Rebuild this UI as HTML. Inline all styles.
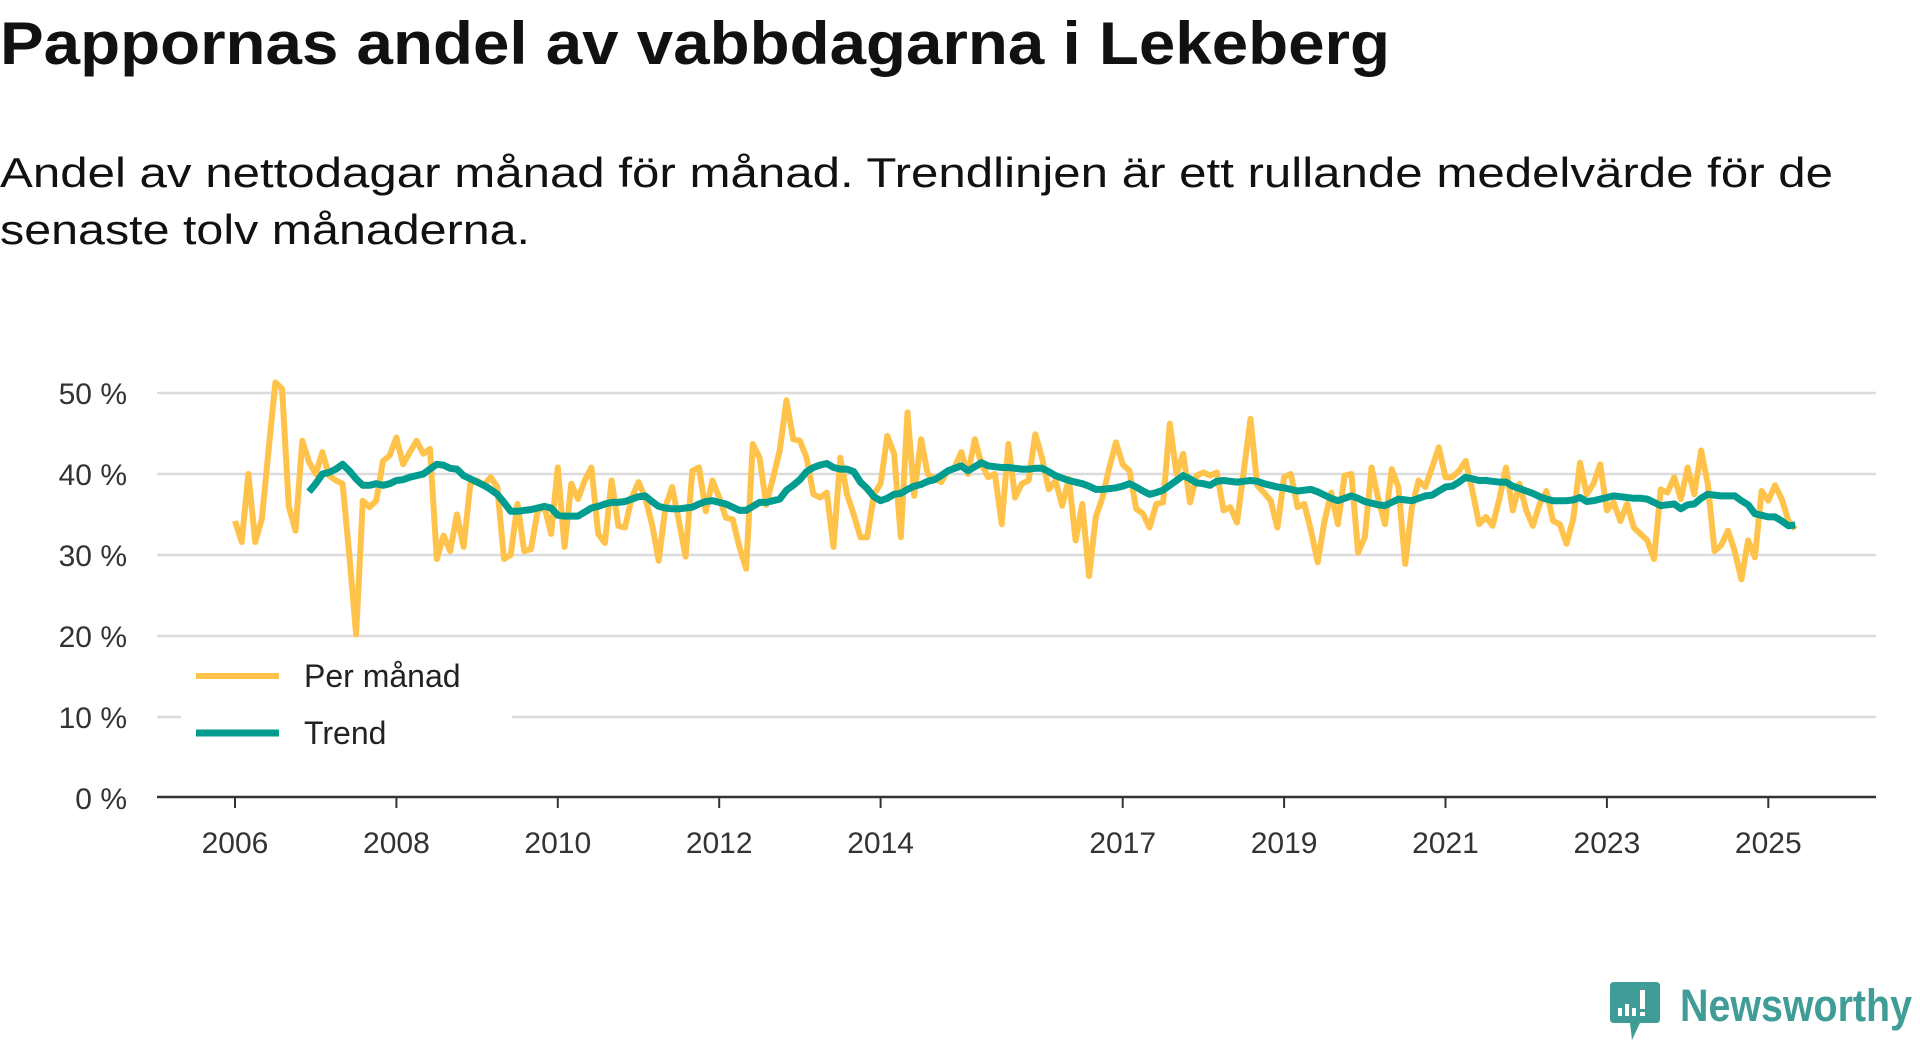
<!DOCTYPE html>
<html><head><meta charset="utf-8"><style>
html,body{margin:0;padding:0;background:#fff;}
svg{display:block;font-family:"Liberation Sans","DejaVu Sans",sans-serif;}
</style></head><body>
<svg id="chart" width="1920" height="1040" viewBox="0 0 1920 1040" xmlns="http://www.w3.org/2000/svg">
<text x="0" y="64" font-size="60" font-weight="bold" fill="#111" textLength="1390" lengthAdjust="spacingAndGlyphs">Pappornas andel av vabbdagarna i Lekeberg</text>
<text x="0" y="187" font-size="42" fill="#111" textLength="1833" lengthAdjust="spacingAndGlyphs">Andel av nettodagar månad för månad. Trendlinjen är ett rullande medelvärde för de</text>
<text x="0" y="244" font-size="42" fill="#111" textLength="530" lengthAdjust="spacingAndGlyphs">senaste tolv månaderna.</text>
<g id="grid"></g>
<g id="yaxis"></g>
<g id="xaxis"></g>
<g id="series"></g>
<g>
<rect x="181" y="645" width="331" height="74" fill="#fff"/>
<g>
<line x1="196" y1="676" x2="279" y2="676" stroke="#FFC34C" stroke-width="6"/>
<text x="304" y="687" font-size="32" fill="#222">Per månad</text></g>
<g>
<line x1="196" y1="733" x2="279" y2="733" stroke="#009C8F" stroke-width="7"/>
<text x="304" y="744" font-size="32" fill="#222">Trend</text></g>
</g>
<g>
<path d="M1614 982 H1656 Q1660 982 1660 986 V1019 Q1660 1023 1656 1023 H1640 L1632 1040 L1630 1023 H1614 Q1610 1023 1610 1019 V986 Q1610 982 1614 982 Z" fill="#3f9c96"/>
<rect x="1618" y="1008" width="4" height="8" fill="#fff"/>
<rect x="1625" y="1004" width="4" height="12" fill="#fff"/>
<rect x="1632" y="1008" width="4" height="8" fill="#fff"/>
<rect x="1640" y="990" width="5" height="19" fill="#fff"/>
<rect x="1640" y="1012" width="5" height="4" fill="#fff"/>
<text x="1680" y="1021" font-size="45" font-weight="bold" fill="#3f9c96" textLength="232" lengthAdjust="spacingAndGlyphs">Newsworthy</text>
</g>
</svg>
<script>
const monthly = [34.2,31.6,40,31.6,34.5,43,51.3,50.5,36,33,44.1,41.5,
40,42.7,39.8,39.2,38.8,30,20.2,36.7,35.9,36.7,41.6,42.3,
44.5,41.2,42.7,44.1,42.5,43.1,29.5,32.4,30.5,35,31,38.8,
39.2,38.6,39.6,38.4,29.5,30,36.3,30.5,30.7,35.4,36,32.6,
40.8,31,38.8,36.9,39.2,40.8,32.6,31.5,39.2,33.6,33.4,37.1,
39,37.1,33.8,29.3,35.9,38.4,34.2,29.8,40.4,40.8,35.4,39.2,
37.1,34.6,34.4,31,28.3,43.7,42,36.2,39.5,42.9,49.1,44.3,
44.1,42,37.5,37.1,37.7,31,42,37.5,35,32.2,32.2,37.5,
38.8,44.7,42.5,32.2,47.6,37.3,44.3,40,39.4,39,40.4,40.8,
42.7,40,44.3,41.2,39.6,40,33.8,43.7,37.1,38.8,39.2,44.9,
42,38.1,39.2,36.1,39.4,31.8,36.3,27.4,34.7,37.1,40.8,43.9,
41.2,40.4,35.7,35.1,33.4,36.3,36.5,46.2,40,42.5,36.5,39.8,
40.2,39.8,40.2,35.5,35.9,34,40.4,46.8,38.6,37.7,36.7,33.4,
39.6,40,35.9,36.3,33,29.1,34.2,37.7,33.8,39.8,40,30.3,
32.2,40.8,36.9,33.8,40.6,38.4,28.9,35.9,39.2,38.4,40.8,43.3,
39.6,39.6,40.4,41.6,37.9,33.8,34.7,33.6,36.9,40.8,35.5,38.8,
35.5,33.6,36.3,37.9,34.2,33.8,31.4,34.5,41.4,37.5,38.8,41.2,
35.5,36.5,34.2,36.3,33.4,32.6,31.8,29.5,38.1,37.7,39.6,36.9,
40.8,37.5,42.9,38.8,30.5,31.2,33,30.5,27,31.8,29.7,37.9,
36.7,38.6,36.9,34.2,33.2];
const trend = [null,null,null,null,null,null,null,null,null,null,null,37.8,
38.8,40,40.2,40.6,41.2,40.4,39.4,38.6,38.6,38.8,38.6,38.8,
39.2,39.3,39.6,39.8,40,40.6,41.2,41.1,40.7,40.6,39.8,39.4,
39,38.6,38.1,37.5,36.5,35.4,35.4,35.5,35.6,35.8,36,35.8,
34.9,34.8,34.8,34.8,35.3,35.8,36,36.3,36.5,36.5,36.6,36.9,
37.2,37.3,36.6,36,35.8,35.7,35.7,35.8,35.9,36.3,36.6,36.7,
36.5,36.3,35.9,35.5,35.5,36,36.5,36.5,36.7,36.9,38,38.6,
39.3,40.3,40.8,41.1,41.3,40.8,40.6,40.6,40.3,39,38.2,37.2,
36.7,37,37.5,37.6,38.1,38.5,38.7,39.1,39.3,39.8,40.4,40.7,
41,40.4,40.9,41.4,41,40.9,40.8,40.8,40.7,40.6,40.6,40.7,
40.7,40.3,39.8,39.5,39.2,39,38.8,38.5,38.1,38.1,38.2,38.3,
38.5,38.8,38.4,37.9,37.5,37.7,38,38.6,39.2,39.8,39.4,38.9,
38.8,38.6,39.1,39.2,39.1,39,39.1,39.2,39.1,38.8,38.6,38.4,
38.3,38.1,37.9,38,38.1,37.8,37.4,37,36.7,37,37.3,37,
36.6,36.4,36.2,36.1,36.5,36.9,36.8,36.7,37,37.3,37.4,37.9,
38.4,38.5,39,39.6,39.4,39.2,39.2,39.1,39,39,38.5,38.2,
37.9,37.6,37.2,36.9,36.7,36.7,36.7,36.8,37.1,36.6,36.7,36.9,
37.1,37.3,37.2,37.1,37,37,36.9,36.5,36.1,36.2,36.3,35.7,
36.2,36.3,37,37.5,37.4,37.3,37.3,37.3,36.7,36.2,35.1,34.9,
34.7,34.7,34.2,33.6,33.7];
const yTicks = [0,10,20,30,40,50];
const xTickYears = [2006,2008,2010,2012,2014,2017,2019,2021,2023,2025];
const startYear = 2006;

const NS = "http://www.w3.org/2000/svg";
const plotLeft = 157, plotRight = 1876;
function xScale(i){ return 235 + i * (80.7/12); }
function xYear(y){ return xScale((y - startYear) * 12); }
function yScale(v){ return 798 - v * 8.1; }
function mk(tag, attrs, parent){
  const el = document.createElementNS(NS, tag);
  for (const k in attrs) el.setAttribute(k, attrs[k]);
  parent.appendChild(el); return el;
}
const grid = document.getElementById('grid');
const yaxis = document.getElementById('yaxis');
const xaxis = document.getElementById('xaxis');
const series = document.getElementById('series');
yTicks.forEach(t => {
  if (t > 0) {
    const g = mk('line', {x1: plotLeft, x2: plotRight, y1: yScale(t), y2: yScale(t), stroke: '#dcdcdc', 'stroke-width': 2.5}, grid);
    
    
  }
  const lb = mk('text', {x: 127, y: yScale(t) + 11, 'text-anchor': 'end', 'font-size': 30, fill: '#333'}, yaxis);
  lb.textContent = t + ' %';
  
  
});
const ax = mk('line', {x1: plotLeft, x2: plotRight, y1: 797, y2: 797, stroke: '#333', 'stroke-width': 2.5}, xaxis);


xTickYears.forEach(y => {
  const x = xYear(y);
  const tk = mk('line', {x1: x, x2: x, y1: 797, y2: 808, stroke: '#333', 'stroke-width': 2}, xaxis);
  
  
  const lb = mk('text', {x: x, y: 853, 'text-anchor': 'middle', 'font-size': 30, fill: '#333'}, xaxis);
  lb.textContent = y;
  
  
});
function pathFor(arr){
  let d = '', started = false;
  arr.forEach((v, i) => {
    if (v === null || v === undefined) { started = false; return; }
    d += (started ? 'L' : 'M') + xScale(i).toFixed(1) + ' ' + yScale(v).toFixed(1) + ' ';
    started = true;
  });
  return d;
}
const pm = mk('path', {d: pathFor(monthly), fill: 'none', stroke: '#FFC34C', 'stroke-width': 6, 'stroke-linejoin': 'round'}, series);


const tr = mk('path', {d: pathFor(trend), fill: 'none', stroke: '#009C8F', 'stroke-width': 7, 'stroke-linejoin': 'round'}, series);


</script>
</body></html>
